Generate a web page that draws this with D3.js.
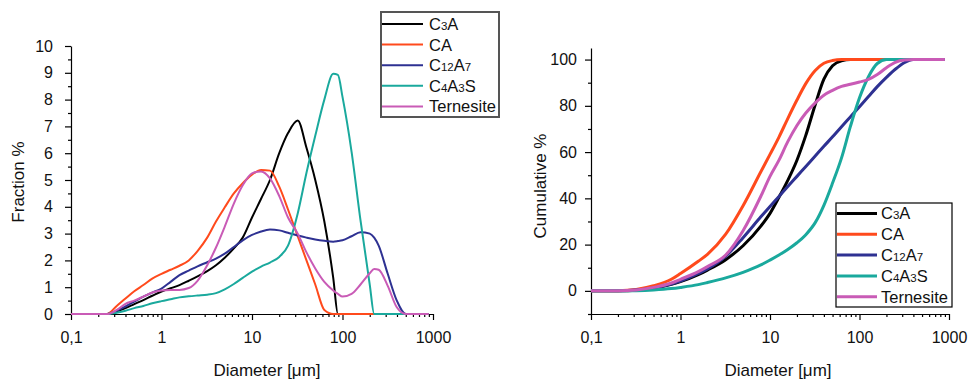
<!DOCTYPE html>
<html>
<head>
<meta charset="utf-8">
<script src="https://cdn.jsdelivr.net/npm/d3@7.9.0/dist/d3.min.js"></script>
<style>
  body { margin: 0; background: #fff; }
  svg { font-family: "Liberation Sans", Arial, sans-serif; }
</style>
</head>
<body>
<svg width="968" height="380"></svg>
<script>
// series names + colours (legend order = draw order)
const names = ['C3A', 'CA', 'C12A7', 'C4A3S', 'Ternesite'];
const colors = ['#000000', '#ff4a1c', '#2e3192', '#1aa99d', '#c95bb6'];

// left panel: size fraction
const diamFrac = [0.1, 0.2, 0.25, 0.32, 0.4, 0.5, 0.63, 0.79, 1, 1.26, 1.58, 2, 2.5, 3.2, 4, 5, 6.3, 7.9, 10, 12.6,
    15.8, 20, 25, 32, 40, 50, 63, 79, 89, 100, 126, 158, 200, 224, 251, 316, 398, 501, 631, 794, 900];
const fracC3A = [0, 0, 0, 0.1, 0.22, 0.37, 0.52, 0.68, 0.84, 0.96, 1.08, 1.24, 1.4, 1.6, 1.82, 2.1, 2.45, 2.85, 3.6, 4.3,
    5.0, 6.0, 6.75, 7.22, 6.2, 5.0, 3.45, 1.35, 0, 0, 0, 0, 0, 0, 0, 0, 0, 0, 0, 0, 0];
const fracCA = [0, 0, 0, 0.3, 0.58, 0.85, 1.08, 1.32, 1.5, 1.65, 1.8, 2.0, 2.35, 2.85, 3.45, 3.98, 4.5, 4.88, 5.2, 5.37,
    5.35, 4.75, 3.9, 2.9, 2.0, 1.1, 0.15, 0, 0, 0, 0, 0, 0, 0, 0, 0, 0, 0, 0, 0, 0];
const fracC12A7 = [0, 0, 0, 0.12, 0.28, 0.46, 0.65, 0.8, 0.95, 1.2, 1.45, 1.62, 1.78, 1.93, 2.07, 2.25, 2.5, 2.75, 2.95, 3.08,
    3.15, 3.12, 3.03, 2.93, 2.85, 2.78, 2.73, 2.7, 2.72, 2.75, 2.9, 3.05, 3.0, 2.85, 2.55, 1.5, 0.5, 0, 0, 0, 0];
const fracC4A3S = [0, 0, 0, 0.05, 0.12, 0.22, 0.3, 0.4, 0.48, 0.55, 0.62, 0.66, 0.69, 0.72, 0.78, 0.92, 1.12, 1.35, 1.58, 1.77,
    1.92, 2.13, 2.55, 3.75, 5.27, 6.65, 8.0, 8.96, 8.92, 8.1, 6.05, 3.5, 1.1, 0, 0, 0, 0, 0, 0, 0, 0];
const fracTernesite = [0, 0, 0, 0.15, 0.38, 0.5, 0.65, 0.8, 0.88, 0.9, 0.9, 0.97, 1.24, 1.82, 2.48, 3.26, 4.12, 4.8, 5.25, 5.32,
    5.06, 4.4, 3.6, 3.0, 2.3, 1.7, 1.2, 0.88, 0.75, 0.65, 0.75, 1.1, 1.52, 1.68, 1.65, 1.05, 0.25, 0, 0, 0, 0];

// right panel: cumulative
const diamCum = [0.1, 0.2, 0.32, 0.5, 0.79, 1, 1.58, 2, 3.2, 5, 7.9, 10, 12.6, 15.8, 20, 25, 32, 40, 50, 63,
    79, 100, 126, 158, 200, 251, 316, 398, 501, 631, 794, 900];
const cumC3A = [0, 0.05, 0.3, 1.2, 2.8, 4.0, 7.0, 9.0, 13.5, 19.5, 28, 33.5, 40.5, 47.8, 56.5, 67, 80.5, 91.5, 97.3, 99.5,
    100, 100, 100, 100, 100, 100, 100, 100, 100, 100, 100, 100];
const cumCA = [0, 0.1, 0.6, 2.2, 5.0, 7.5, 12.8, 15.8, 24.5, 36.8, 51.5, 59, 66.5, 74.5, 82.5, 89.5, 95.3, 98.4, 99.6, 100,
    100, 100, 100, 100, 100, 100, 100, 100, 100, 100, 100, 100];
const cumC12A7 = [0, 0.05, 0.4, 1.3, 3.0, 4.2, 7.5, 9.5, 15, 23, 32, 36.5, 40.8, 45.1, 49.5, 53.7, 58.3, 62.5, 66.6, 71,
    75.2, 79.6, 84, 88.3, 92.3, 95.8, 98.6, 100, 100, 100, 100, 100];
const cumC4A3S = [0, 0.02, 0.1, 0.4, 1.0, 1.5, 2.7, 3.6, 5.6, 8.0, 11.2, 13.3, 15.5, 17.9, 20.8, 24.2, 29.5, 37, 46.6, 57.5,
    71, 83.5, 92.6, 98.3, 100, 100, 100, 100, 100, 100, 100, 100];
const cumTernesite = [0, 0.05, 0.4, 1.5, 3.4, 5, 8.3, 10.5, 15.5, 26, 40.9, 49.5, 56.5, 64.5, 71.5, 76.8, 81.3, 84.6, 86.7, 88.4,
    89.3, 90.3, 91.4, 93.5, 96.5, 98.8, 99.8, 100, 100, 100, 100, 100];

const xMajor = [0.1, 1, 10, 100, 1000];
const fracTicks = [0, 1, 2, 3, 4, 5, 6, 7, 8, 9, 10];
const fracMinor = [0.5, 1.5, 2.5, 3.5, 4.5, 5.5, 6.5, 7.5, 8.5, 9.5];
const cumTicks = [0, 20, 40, 60, 80, 100];
const cumMinor = [-10, 10, 30, 50, 70, 90];

const svg = d3.select('svg');
const fmtX = d => d < 1 ? '0,1' : String(d);

function drawPanel(p) {
    const g = svg.append('g');
    const x = d3.scaleLog().domain([0.1, 1000]).range(p.xRange);
    const y = d3.scaleLinear().domain(p.yDomain).range(p.yRange);
    const y0 = p.yRange[0];

    // minor ticks first
    g.append('g')
        .attr('transform', `translate(0,${y0})`)
        .call(d3.axisBottom(x).tickValues(x.ticks().filter(t => !xMajor.includes(t))).tickSize(3).tickFormat(''))
        .call(a => a.select('.domain').remove());
    g.append('g')
        .attr('transform', `translate(${p.xRange[0]},0)`)
        .call(d3.axisLeft(y).tickValues(p.yMinor).tickSize(3).tickFormat(''))
        .call(a => a.select('.domain').remove());

    g.append('g')
        .attr('transform', `translate(0,${y0})`)
        .call(d3.axisBottom(x).tickValues(xMajor).tickFormat(fmtX).tickSize(6).tickSizeOuter(0).tickPadding(12))
        .attr('font-size', 16).attr('font-family', null);
    g.append('g')
        .attr('transform', `translate(${p.xRange[0]},0)`)
        .call(d3.axisLeft(y).tickValues(p.yTicks).tickSize(6).tickSizeOuter(0).tickPadding(p.yPad))
        .attr('font-size', 16).attr('font-family', null);

    g.selectAll('.domain, .tick line').attr('stroke', '#000').attr('stroke-width', 1.2);
    g.selectAll('.tick text').attr('fill', '#111');

    const line = d3.line()
        .x((d, i) => x(p.diam[i]))
        .y(d => y(d))
        .curve(d3.curveMonotoneX);

    p.series.forEach((vals, i) => {
        g.append('path')
            .attr('d', line(vals))
            .attr('fill', 'none')
            .attr('stroke', colors[i])
            .attr('stroke-width', p.lineWidth)
            .attr('stroke-linejoin', 'round');
    });

    g.append('text')
        .attr('transform', `translate(${p.yTitlePos[0]},${p.yTitlePos[1]}) rotate(-90)`)
        .attr('text-anchor', 'middle')
        .attr('dy', '0.35em')
        .attr('font-size', 17)
        .attr('fill', '#111')
        .text(p.yTitle);
    g.append('text')
        .attr('x', p.xTitlePos[0])
        .attr('y', p.xTitlePos[1])
        .attr('text-anchor', 'middle')
        .attr('dy', '0.35em')
        .attr('font-size', 17)
        .attr('fill', '#111')
        .text('Diameter [μm]');

    // legend
    const L = p.legend;
    g.append('rect')
        .attr('x', L.x).attr('y', L.y)
        .attr('width', L.w).attr('height', L.h)
        .attr('fill', '#fff')
        .attr('stroke', L.border)
        .attr('stroke-width', L.borderWidth);
    names.forEach((name, i) => {
        const ly = L.y + L.first + i * L.step;
        g.append('line')
            .attr('x1', L.x + 1).attr('x2', L.x + L.lineLen)
            .attr('y1', ly).attr('y2', ly)
            .attr('stroke', colors[i])
            .attr('stroke-width', p.lineWidth);
        const t = g.append('text')
            .attr('x', L.x + L.lineLen + L.gap)
            .attr('y', ly)
            .attr('dy', '0.36em')
            .attr('font-size', 16.5)
            .attr('fill', '#111');
        // digits drawn smaller, as in the chemical notation
        name.match(/\d+|\D+/g).forEach(part => {
            const s = t.append('tspan').text(part);
            if (/\d/.test(part)) s.attr('font-size', 11.5);
        });
    });
}

drawPanel({
    xRange: [71, 433], yDomain: [0, 10], yRange: [314, 46],
    yTicks: fracTicks, yMinor: fracMinor, yPad: 12,
    diam: diamFrac,
    series: [fracC3A, fracCA, fracC12A7, fracC4A3S, fracTernesite],
    lineWidth: 2,
    yTitle: 'Fraction %', yTitlePos: [18, 182], xTitlePos: [267, 370],
    legend: { x: 381, y: 12, w: 118, h: 105, first: 12, step: 20.6, lineLen: 42, gap: 6, border: '#555', borderWidth: 2 }
});

drawPanel({
    xRange: [591, 949], yDomain: [-10, 105], yRange: [314, 48],
    yTicks: cumTicks, yMinor: cumMinor, yPad: 8,
    diam: diamCum,
    series: [cumC3A, cumCA, cumC12A7, cumC4A3S, cumTernesite],
    lineWidth: 3,
    yTitle: 'Cumulative %', yTitlePos: [540, 186], xTitlePos: [778, 370],
    legend: { x: 836, y: 203, w: 116, h: 104, first: 10.5, step: 20.8, lineLen: 41, gap: 4, border: '#000', borderWidth: 1.2 }
});
</script>
</body>
</html>
